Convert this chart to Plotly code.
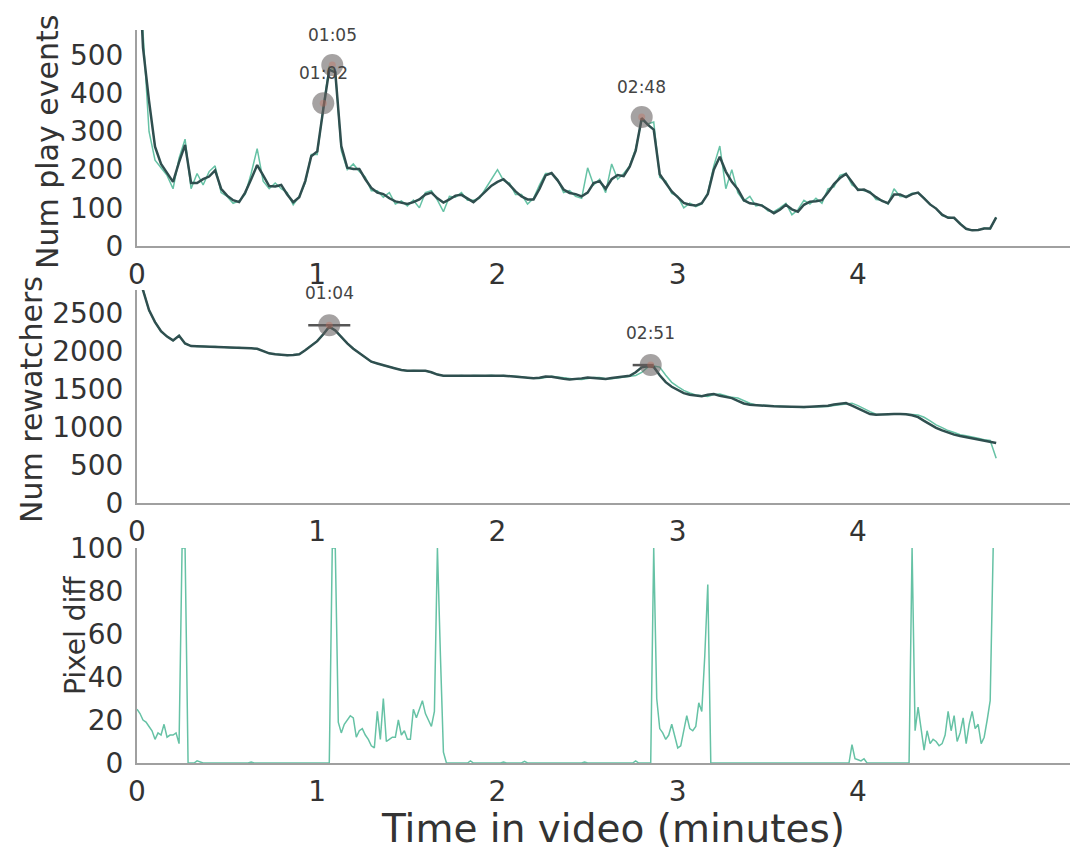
import plotly.graph_objects as go

# ---------------- data ----------------
# sampling grids (seconds into the video)
sec_2s = list(range(0, 287, 2))      # play events / rewatchers sampled every 2 s
sec_1s = list(range(0, 286, 1))      # pixel diff sampled every second

plays_raw = [900, 560, 300, 225, 205, 185, 150, 230, 280, 150, 190, 160, 195, 210, 140, 130,
             112, 118, 135, 190, 255, 170, 150, 165, 150, 140, 108, 130, 165, 240, 240, 365,
             470, 460, 250, 200, 215, 195, 180, 145, 145, 128, 140, 110, 118, 105, 120, 100,
             140, 145, 120, 90, 130, 128, 140, 120, 120, 125, 150, 175, 200, 172, 165, 135,
             135, 110, 125, 160, 190, 190, 175, 140, 145, 130, 125, 205, 160, 175, 140, 215,
             175, 190, 210, 255, 330, 320, 325, 180, 170, 138, 130, 100, 112, 103, 110, 140,
             210, 262, 150, 200, 140, 118, 130, 105, 108, 92, 90, 100, 112, 82, 95, 120,
             110, 125, 112, 150, 155, 185, 190, 160, 150, 145, 143, 122, 120, 110, 150, 130,
             130, 138, 138, 126, 108, 99, 80, 76, 72, 60, 44, 42, 41, 47, 45, 75]

plays_smooth = [850, 520, 380, 260, 215, 190, 168, 220, 265, 165, 165, 175, 182, 198, 150, 132,
                120, 115, 140, 175, 212, 185, 157, 156, 160, 135, 115, 128, 170, 235, 248, 358,
                462, 455, 262, 205, 202, 202, 175, 152, 140, 136, 125, 117, 113, 110, 115, 122,
                135, 140, 125, 114, 122, 132, 134, 125, 115, 128, 142, 158, 168, 175, 160, 143,
                130, 122, 122, 150, 185, 191, 172, 148, 139, 136, 130, 140, 165, 170, 150, 175,
                186, 183, 208, 250, 335, 318, 305, 188, 165, 143, 128, 113, 108, 106, 112, 136,
                200, 234, 195, 168, 149, 120, 112, 110, 106, 97, 86, 95, 108, 96, 90, 108,
                116, 117, 120, 140, 162, 178, 189, 168, 147, 148, 140, 128, 118, 112, 135, 135,
                128, 136, 140, 125, 109, 98, 82, 74, 74, 58, 45, 41, 42, 46, 46, 75]

rewatch_raw = [3100, 2810, 2530, 2385, 2255, 2195, 2138, 2205, 2095, 2068, 2060, 2064, 2055, 2058, 2050, 2048,
               2040, 2045, 2036, 2038, 2028, 2002, 1966, 1960, 1946, 1940, 1950, 1956, 2012, 2068, 2133, 2218,
               2325, 2268, 2182, 2098, 2032, 1972, 1922, 1858, 1838, 1808, 1792, 1768, 1752, 1738, 1745, 1742,
               1741, 1718, 1692, 1673, 1675, 1671, 1678, 1670, 1678, 1672, 1675, 1681, 1670, 1678, 1673, 1666,
               1662, 1648, 1647, 1640, 1650, 1668, 1658, 1647, 1632, 1627, 1626, 1642, 1650, 1650, 1636, 1634,
               1643, 1657, 1662, 1678, 1718, 1788, 1802, 1788, 1682, 1588, 1532, 1483, 1447, 1423, 1412, 1402,
               1428, 1433, 1412, 1390, 1382, 1343, 1312, 1290, 1287, 1278, 1277, 1270, 1271, 1266, 1263, 1256,
               1264, 1266, 1272, 1270, 1282, 1293, 1312, 1314, 1282, 1238, 1202, 1168, 1162, 1163, 1172, 1170,
               1172, 1166, 1157, 1128, 1082, 1028, 992, 953, 927, 898, 884, 863, 852, 833, 822, 590]

rewatch_smooth = [3100, 2800, 2540, 2380, 2260, 2190, 2140, 2200, 2100, 2065, 2062, 2060, 2058, 2055, 2050, 2045,
                  2042, 2040, 2038, 2035, 2030, 2000, 1970, 1958, 1948, 1943, 1948, 1958, 2010, 2070, 2130, 2220,
                  2320, 2270, 2180, 2100, 2030, 1975, 1920, 1860, 1835, 1810, 1790, 1770, 1750, 1740, 1742, 1745,
                  1740, 1720, 1690, 1675, 1672, 1675, 1673, 1676, 1674, 1675, 1678, 1672, 1676, 1675, 1668, 1660,
                  1650, 1645, 1642, 1648, 1665, 1660, 1645, 1635, 1625, 1628, 1640, 1652, 1648, 1638, 1632, 1645,
                  1655, 1665, 1675, 1720, 1785, 1800, 1790, 1680, 1590, 1530, 1485, 1445, 1425, 1410, 1405, 1425,
                  1435, 1410, 1392, 1380, 1345, 1310, 1292, 1285, 1280, 1275, 1272, 1270, 1268, 1262, 1258, 1262,
                  1268, 1270, 1272, 1280, 1295, 1310, 1316, 1280, 1240, 1200, 1170, 1160, 1165, 1170, 1172, 1170,
                  1168, 1155, 1130, 1080, 1030, 990, 955, 925, 900, 882, 865, 850, 835, 820, 805, 790]

pixel_diff = [25, 23, 20, 19, 17, 15, 11, 14, 13, 18, 12, 13, 13, 14, 9, 100,
              100, 0, 0, 0, 1, 0.5, 0, 0, 0, 0, 0, 0, 0.3, 0, 0, 0,
              0, 0, 0, 0, 0, 0, 0.4, 0, 0, 0, 0, 0, 0, 0, 0.3, 0,
              0, 0, 0, 0, 0, 0, 0, 0.2, 0, 0, 0, 0, 0, 0, 0, 0,
              0, 100, 100, 19, 14, 18, 20, 22, 21, 12, 15, 16, 13, 11, 8, 7,
              24, 11, 30, 10, 11, 12, 12, 20, 13, 15, 11, 11, 25, 21, 25, 29,
              23, 20, 17, 24, 100, 50, 5, 0, 0, 0, 0, 0, 0, 0, 0, 1,
              0, 0, 0, 0, 0, 0, 0, 0, 0, 0, 0.4, 0, 0, 0, 0, 0,
              0, 0.8, 0, 0, 0, 0, 0, 0, 0, 0, 0, 0, 0, 0, 0, 0,
              0, 0, 0, 0, 0, 0.5, 0, 0, 0, 0, 0, 0, 0, 0, 0, 0,
              0, 0, 0, 0, 0, 0, 1, 0, 0, 0, 0, 0, 100, 30, 16, 14,
              11, 13, 18, 12, 7, 8, 15, 22, 16, 15, 17, 28, 24, 50, 83, 0,
              0, 0, 0, 0, 0, 0, 0, 0, 0, 0, 0, 0, 0, 0, 0, 0,
              0, 0, 0, 0, 0, 0, 0, 0, 0, 0, 0, 0, 0, 0, 0, 0,
              0, 0, 0, 0, 0, 0, 0, 0, 0, 0, 0, 0, 0, 0, 8.5, 2,
              1.5, 1, 2, 0, 0, 0, 0, 0, 0, 0, 0, 0, 0, 0, 0, 0,
              0, 0, 100, 15, 26, 17, 6, 15, 9, 11, 10, 8, 9, 13, 24, 15,
              22, 10, 14, 21, 9, 18, 24, 16, 18, 9, 12, 20, 29, 100]

# detected peaks (seconds, value, label)
play_peak_sec = [62, 65, 168]
play_peak_val = [374, 474, 338]
play_peak_lbl = ["01:02", "01:05", "02:48"]

rew_peak_sec = [64, 171]
rew_peak_val = [2340, 1815]
rew_peak_lbl = ["01:04", "02:51"]
rew_peak_left = [57, 165]     # peak width bounds (seconds)
rew_peak_right = [71, 172]

x_ticks = [0, 1, 2, 3, 4]
plays_ticks = [0, 100, 200, 300, 400, 500]
rewatch_ticks = [0, 500, 1000, 1500, 2000, 2500]
pixel_ticks = [0, 20, 40, 60, 80, 100]

# ---------------- styling ----------------
GREEN = "#66c2a5"
DARK = "#2f4f4f"
TXT = "#333333"
SPINE = "#a0a0a0"
FONT = "DejaVu Sans"
W, H = 1078, 850
OFF = 8  # the page places the plot 8 px in from the window corner


def px_x(x):
    return (x - OFF) / W


def px_y(y):
    return 1 - (y - OFF) / H


def mins(seq):
    return [s / 60.0 for s in seq]


fig = go.Figure()

# top panel
fig.add_trace(go.Scatter(x=mins(sec_2s), y=plays_raw, mode="lines",
                         line=dict(color=GREEN, width=1.5), xaxis="x", yaxis="y"))
fig.add_trace(go.Scatter(x=mins(sec_2s), y=plays_smooth, mode="lines",
                         line=dict(color=DARK, width=2.5), xaxis="x", yaxis="y"))
fig.add_trace(go.Scatter(x=mins(play_peak_sec), y=play_peak_val, mode="markers",
                         marker=dict(size=22, color="rgba(100,95,95,0.58)", line=dict(width=0)),
                         xaxis="x", yaxis="y"))
fig.add_trace(go.Scatter(x=mins(play_peak_sec), y=play_peak_val, mode="markers",
                         marker=dict(size=7, color="rgba(200,110,90,0.35)", line=dict(width=0)),
                         xaxis="x", yaxis="y"))

# middle panel
fig.add_trace(go.Scatter(x=mins(sec_2s), y=rewatch_raw, mode="lines",
                         line=dict(color=GREEN, width=1.5), xaxis="x2", yaxis="y2"))
fig.add_trace(go.Scatter(x=mins(sec_2s), y=rewatch_smooth, mode="lines",
                         line=dict(color=DARK, width=2.5), xaxis="x2", yaxis="y2"))
for l, r, v in zip(rew_peak_left, rew_peak_right, rew_peak_val):
    fig.add_trace(go.Scatter(x=mins([l, r]), y=[v, v], mode="lines",
                             line=dict(color="#555555", width=2.5), xaxis="x2", yaxis="y2"))
fig.add_trace(go.Scatter(x=mins(rew_peak_sec), y=rew_peak_val, mode="markers",
                         marker=dict(size=22, color="rgba(100,95,95,0.58)", line=dict(width=0)),
                         xaxis="x2", yaxis="y2"))
fig.add_trace(go.Scatter(x=mins(rew_peak_sec), y=rew_peak_val, mode="markers",
                         marker=dict(size=7, color="rgba(200,110,90,0.35)", line=dict(width=0)),
                         xaxis="x2", yaxis="y2"))

# bottom panel
fig.add_trace(go.Scatter(x=mins(sec_1s), y=pixel_diff, mode="lines",
                         line=dict(color=GREEN, width=1.5), xaxis="x3", yaxis="y3"))

annotations = []
for s, v, lbl in zip(play_peak_sec, play_peak_val, play_peak_lbl):
    annotations.append(dict(x=s / 60.0, y=v, xref="x", yref="y", text=lbl, showarrow=False,
                            xanchor="center", yanchor="middle", yshift=30,
                            font=dict(family=FONT, size=17, color="#444444")))
for s, v, lbl in zip(rew_peak_sec, rew_peak_val, rew_peak_lbl):
    annotations.append(dict(x=s / 60.0, y=v, xref="x2", yref="y2", text=lbl, showarrow=False,
                            xanchor="center", yanchor="middle", yshift=32,
                            font=dict(family=FONT, size=17, color="#444444")))

# axis titles
annotations += [
    dict(x=px_x(47), y=px_y(142), xref="paper", yref="paper", text="Num play events",
         textangle=-90, showarrow=False, xanchor="center", yanchor="middle",
         font=dict(family=FONT, size=30, color=TXT)),
    dict(x=px_x(31), y=px_y(400), xref="paper", yref="paper", text="Num rewatchers",
         textangle=-90, showarrow=False, xanchor="center", yanchor="middle",
         font=dict(family=FONT, size=30, color=TXT)),
    dict(x=px_x(75), y=px_y(636), xref="paper", yref="paper", text="Pixel diff",
         textangle=-90, showarrow=False, xanchor="center", yanchor="middle",
         font=dict(family=FONT, size=28, color=TXT)),
    dict(x=px_x(613), y=px_y(828), xref="paper", yref="paper", text="Time in video (minutes)",
         showarrow=False, xanchor="center", yanchor="middle",
         font=dict(family=FONT, size=39, color=TXT)),
]

xdom = [px_x(137), px_x(1078)]
x_max = (1078 - 137) / 180.25   # minutes visible across the axis


def xaxis(anchor):
    return dict(domain=xdom, range=[0, x_max], anchor=anchor, tickvals=x_ticks,
                showgrid=False, zeroline=False, showline=True, linecolor=SPINE, linewidth=2,
                ticks="", ticklen=0, ticklabelstandoff=2, automargin=False,
                tickfont=dict(family=FONT, size=28, color=TXT))


def yaxis(anchor, top_px, bottom_px, rng, tv):
    return dict(domain=[px_y(bottom_px), px_y(top_px)], range=rng, anchor=anchor, tickvals=tv,
                showgrid=False, zeroline=False, showline=True, linecolor=SPINE, linewidth=2,
                ticks="", ticklen=0, ticklabelstandoff=6, automargin=False,
                tickfont=dict(family=FONT, size=28, color=TXT))


fig.update_layout(
    width=W, height=H,
    margin=dict(l=0, r=0, t=0, b=0, autoexpand=False),
    paper_bgcolor="white", plot_bgcolor="white",
    showlegend=False,
    xaxis=xaxis("y"),
    xaxis2=xaxis("y2"),
    xaxis3=xaxis("y3"),
    yaxis=yaxis("x", 30, 246, [0, 566], plays_ticks),
    yaxis2=yaxis("x2", 290, 503, [0, 2803], rewatch_ticks),
    yaxis3=yaxis("x3", 548, 763, [0, 100], pixel_ticks),
    annotations=annotations,
)

fig.write_html("out.html")
